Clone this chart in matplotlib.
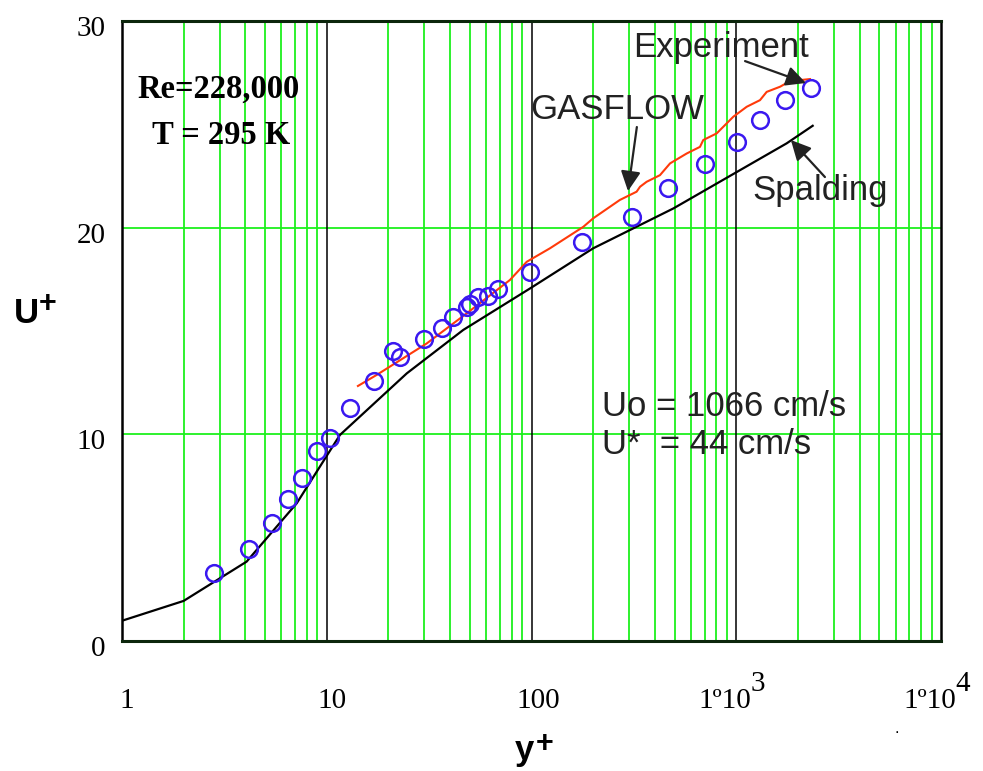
import matplotlib
matplotlib.use('Agg')
import matplotlib.pyplot as plt
from matplotlib.transforms import ScaledTranslation, blended_transform_factory

matplotlib.rcParams['font.family'] = 'Liberation Sans'

# Spalding law of the wall (y+, U+)
spalding_yp = [1.0, 2.0, 4.06, 7.13, 11.6, 24.6, 46.4, 98.4, 200, 493, 1763, 2362]
spalding_up = [0.98, 1.94, 3.84, 6.66, 9.97, 12.95, 15.05, 17.06, 19.0, 20.93, 24.08, 24.93]

# GASFLOW computed profile
gas_yp = [14.2, 17.5, 30.8, 48.2, 78.5, 94.8, 123, 179, 200, 270, 326, 339, 365, 424,
          475, 573, 665, 690, 802, 864, 968, 1125, 1306, 1408, 1637, 1830, 2291]
gas_up = [12.34, 12.87, 14.4, 15.85, 17.47, 18.35, 19.0, 20.04, 20.45, 21.34, 21.74, 21.98,
          22.22, 22.54, 23.11, 23.59, 23.91, 24.24, 24.56, 24.88, 25.37, 25.85, 26.17, 26.57,
          26.82, 27.09, 27.19]

# measured velocity profile
exp_yp = [2.81, 4.17, 5.42, 6.45, 7.60, 8.99, 10.4, 13.0, 17.0, 21.1, 22.8, 29.9, 36.7, 41.5,
          48.2, 50.1, 54.6, 61.5, 68.9, 98.4, 176, 308, 466, 703, 1005, 1306, 1730, 2311]
exp_up = [3.27, 4.45, 5.69, 6.85, 7.90, 9.19, 9.84, 11.29, 12.58, 14.03, 13.72, 14.6, 15.13,
          15.69, 16.14, 16.29, 16.66, 16.71, 17.02, 17.87, 19.32, 20.53, 21.9, 23.08, 24.16,
          25.2, 26.2, 26.74]

decades = [1, 10, 100, 1000, 10000]
yticks = [0, 10, 20, 30]

GREEN = '#1cf01c'
RED = '#ff3a0a'
BLUE = '#3a18f0'
INK = '#222222'

W, H = 983, 771
fig = plt.figure(figsize=(W / 100, H / 100), dpi=100)
fig.patch.set_facecolor('white')
L, R, T, B = 122, 941, 21, 641
ax = fig.add_axes([L / W, 1 - B / H, (R - L) / W, (B - T) / H])
ax.set_xscale('log')
ax.set_xlim(1, 1e4)
ax.set_ylim(0, 30)

# grid: green for the 2..9 lines, black at the inner decades
for k in range(4):
    for m in range(2, 10):
        ax.axvline(m * 10 ** k, color=GREEN, lw=1.3, zorder=1)
for d in decades[1:-1]:
    ax.axvline(d, color='black', lw=1.1, zorder=1.5)
for yv in (10, 20):
    ax.axhline(yv, color=GREEN, lw=1.3, zorder=1)

for side in ('left', 'right'):
    ax.spines[side].set_linewidth(1.8)
    ax.spines[side].set_color('black')
for side in ('top', 'bottom'):
    ax.spines[side].set_linewidth(2.2)
    ax.spines[side].set_color('#0c260c')

ax.plot(spalding_yp, spalding_up, color='black', lw=1.6, zorder=3)
ax.plot(gas_yp, gas_up, color=RED, lw=1.5, zorder=3)
ax.plot(exp_yp, exp_up, ls='none', marker='o', ms=12, mfc='none', mec=BLUE, mew=1.8,
        zorder=4)

# y tick labels
ax.set_yticks(yticks)
ax.set_yticklabels([str(v) for v in yticks], family='Liberation Serif', fontsize=21)
ax.tick_params(axis='y', length=0, pad=12)
for lbl in ax.get_yticklabels():
    lbl.set_transform(lbl.get_transform() + ScaledTranslation(0, -5 / 100, fig.dpi_scale_trans))

# x tick labels drawn by hand (full-size exponents)
ax.set_xticks(decades)
ax.set_xticklabels([])
ax.xaxis.set_minor_formatter(plt.NullFormatter())
ax.tick_params(axis='x', which='both', length=0)
xt = blended_transform_factory(ax.transData, ax.transAxes)
ybase = -(708 - B) / (B - T)
plain = {1: '1', 10: '10', 100: '100'}
for d in decades:
    if d in plain:
        off = 7 if d == 100 else 5
        ax.text(d, ybase, plain[d], ha='center', va='baseline', family='Liberation Serif',
                fontsize=21, transform=xt + ScaledTranslation(off / 100, 0, fig.dpi_scale_trans))
    else:
        t = ax.text(d, ybase, '1\u00ba10', ha='left', va='baseline', family='Liberation Serif',
                    fontsize=21, transform=xt + ScaledTranslation(-38 / 100, 0, fig.dpi_scale_trans))
        ax.annotate(str(len(str(d)) - 1), xy=(1, 0), xycoords=t, xytext=(-0.5, 12),
                    textcoords='offset points', ha='left', va='bottom',
                    family='Liberation Serif', fontsize=21)

# axis titles
fig.text(14 / W, 1 - 323 / H, 'U', fontsize=25, fontweight='bold', va='baseline')
fig.text(39 / W, 1 - 312 / H, '+', fontsize=22, fontweight='bold', va='baseline')
fig.text(515 / W, 1 - 760 / H, 'y', fontsize=25, fontweight='bold', va='baseline')
fig.text(536 / W, 1 - 752 / H, '+', fontsize=22, fontweight='bold', va='baseline')
fig.text(895 / W, 1 - 733 / H, '.', fontsize=12, va='baseline')

def fx(px):
    return (px - L) / (R - L)

def fy(py):
    return (B - py) / (B - T)

ax.text(fx(219), fy(98), 'Re=228,000', family='Liberation Serif', fontweight='bold',
        fontsize=23.5, ha='center', va='baseline', transform=ax.transAxes, zorder=5)
ax.text(fx(221), fy(144), 'T = 295 K', family='Liberation Serif', fontweight='bold',
        fontsize=23.5, ha='center', va='baseline', transform=ax.transAxes, zorder=5)

lab = dict(fontsize=25, color=INK, va='baseline', ha='left', transform=ax.transAxes, zorder=5)
ax.text(fx(633), fy(57), 'Experiment', **lab)
ax.text(fx(530), fy(119), 'GASFLOW', **lab)
ax.text(fx(752), fy(200), 'Spalding', **lab)
ax.text(fx(602), fy(416), 'Uo = 1066 cm/s', **lab)
ax.text(fx(602), fy(454), 'U*  = 44 cm/s', **lab)

arr = dict(arrowstyle='-|>', color=INK, lw=1.6, mutation_scale=30, shrinkA=0, shrinkB=0)
ax.annotate('', xy=(2191, 27.0), xytext=(1104, 28.06), arrowprops=arr, zorder=5)
ax.annotate('', xy=(296, 21.77), xytext=(327, 24.87), arrowprops=arr, zorder=5)
ax.annotate('', xy=(1849, 24.24), xytext=(2711, 22.45), arrowprops=arr, zorder=5)

fig.savefig('out.png', dpi=100, facecolor='white')
